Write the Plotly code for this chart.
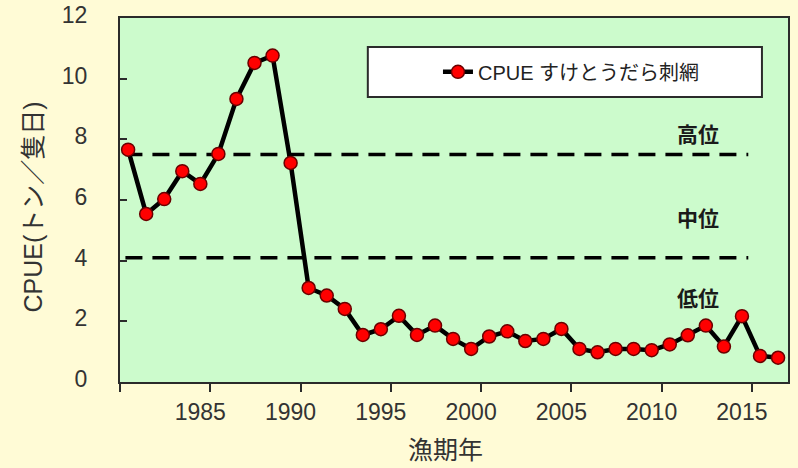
import numpy as np
import plotly.graph_objects as go

# ---- data ----
years = list(range(1980, 2017))
cpue = [7.66, 5.54, 6.03, 6.95, 6.53, 7.52, 9.33, 10.52, 10.76, 7.22,
        3.10, 2.85, 2.41, 1.55, 1.74, 2.18, 1.55, 1.86, 1.42, 1.09,
        1.50, 1.67, 1.35, 1.42, 1.75, 1.09, 0.98, 1.09, 1.09, 1.05,
        1.24, 1.54, 1.86, 1.17, 2.17, 0.86, 0.80]
series_name = "CPUE すけとうだら刺網"
high_threshold = 7.5
low_threshold = 4.1
level_labels = ["高位", "中位", "低位"]
x_tick_years = [1980, 1985, 1990, 1995, 2000, 2005, 2010, 2015]
x_tick_text = ["", "1985", "1990", "1995", "2000", "2005", "2010", "2015"]
y_ticks = [0, 2, 4, 6, 8, 10, 12]
x_title = "漁期年"
y_title = "CPUE(トン／隻日)"

FONT = "Liberation Sans, Arial, Noto Sans CJK JP, sans-serif"
CJK = "Noto Sans CJK JP, sans-serif"

# fishing-year points plotted mid-year
x_pts = np.array(years) + 0.45

fig = go.Figure()
fig.add_trace(go.Scatter(
    x=x_pts, y=cpue, mode="lines+markers", name=series_name,
    line=dict(color="black", width=4.5),
    marker=dict(size=13, color="#ff0000", line=dict(color="#6a0000", width=1.5)),
))

for thr in (high_threshold, low_threshold):
    fig.add_shape(type="line", xref="x", yref="y", x0=1980.3, x1=2014.8, y0=thr, y1=thr,
                  line=dict(color="black", width=3.5, dash="17px,10px"), layer="below")

# legend box
fig.add_shape(type="rect", xref="paper", yref="paper", x0=0.371, x1=0.961, y0=0.783, y1=0.920,
              fillcolor="white", line=dict(color="#2b2b2b", width=2), layer="above")

ann = []
for lab, yy in zip(level_labels, [0.684, 0.453, 0.234]):
    ann.append(dict(text="<b>" + lab + "</b>", xref="paper", yref="paper", x=0.865, y=yy,
                    showarrow=False, xanchor="center", yanchor="middle",
                    font=dict(family=CJK, size=21, color="#1a1a1a")))
ann.append(dict(text=y_title, xref="paper", yref="paper", x=-0.13, y=0.48, textangle=-90,
                showarrow=False, xanchor="center", yanchor="middle",
                font=dict(family=FONT, size=25, color="#333333")))
ann.append(dict(text=x_title, xref="paper", yref="paper", x=0.488, y=-0.181,
                showarrow=False, xanchor="center", yanchor="middle",
                font=dict(family=CJK, size=25, color="#333333")))

fig.update_layout(
    width=798, height=468,
    margin=dict(l=120, r=10, t=18, b=86, autoexpand=False),
    paper_bgcolor="#fffbd6", plot_bgcolor="#ccfbcc",
    font=dict(family=FONT, color="#333333"),
    showlegend=True,
    legend=dict(x=0.476, y=0.852, xanchor="left", yanchor="middle",
                bgcolor="rgba(0,0,0,0)", borderwidth=0,
                font=dict(family=FONT, size=20, color="#222222")),
    annotations=ann,
    xaxis=dict(range=[1980, 2017], tickvals=x_tick_years, ticktext=x_tick_text,
               ticks="outside", ticklen=8, tickwidth=2, tickcolor="#2b2b2b",
               showline=True, linecolor="#2b2b2b", linewidth=2, mirror=True,
               showgrid=False, zeroline=False, ticklabelshift=-10, automargin=False,
               tickfont=dict(family=FONT, size=23, color="#333333")),
    yaxis=dict(range=[0, 12], tickvals=y_ticks,
               ticks="inside", ticklen=7, tickwidth=2, tickcolor="#2b2b2b",
               showline=True, linecolor="#2b2b2b", linewidth=2, mirror=True,
               showgrid=False, zeroline=False, ticklabelstandoff=26, ticklabelshift=-3,
               automargin=False,
               tickfont=dict(family=FONT, size=23, color="#333333")),
)

fig.write_html("out.html", config={"displayModeBar": False},
               post_script="document.body.style.margin='0';document.body.style.overflow='hidden';")
